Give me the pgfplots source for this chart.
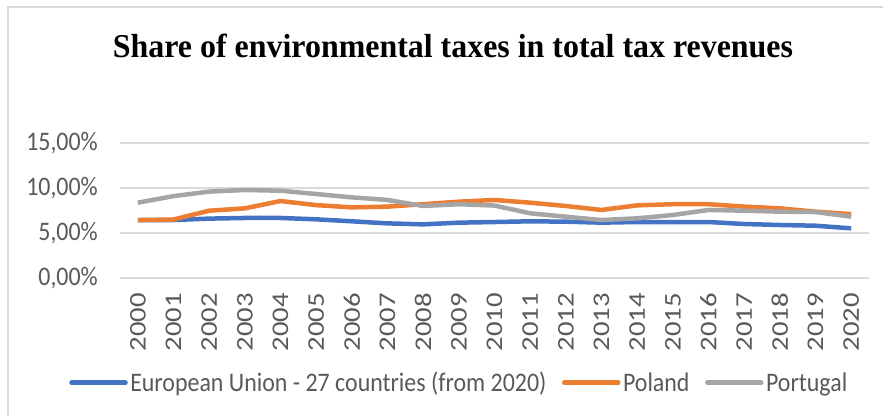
\documentclass[border=0pt]{standalone}
\usepackage{pgfplots}
\pgfplotsset{compat=1.18}
\usepackage{fontspec}
\setmainfont{Carlito}
\newfontfamily\titlefont{Liberation Serif}
\definecolor{euBlue}{HTML}{4472C4}
\definecolor{plOrange}{HTML}{ED7D31}
\definecolor{ptGray}{HTML}{A5A5A5}
\definecolor{gridgray}{HTML}{D9D9D9}
\definecolor{labelgray}{HTML}{595959}
\newcommand\vs[1]{\scalebox{1}[1.12]{#1}}
\newcommand\ls[1]{\scalebox{1.2}[1]{#1}}
\begin{document}
\begin{tikzpicture}[x=1bp,y=1bp]
\useasboundingbox (0bp,0bp) rectangle (883bp,-416bp);
\draw[color=gridgray, line width=1.5bp] (8bp,-416bp) -- (8bp,-7bp) -- (883bp,-7bp);
\node[anchor=base, inner sep=0pt] at (453bp,-57.3bp) {\resizebox{680bp}{23.5bp}{\titlefont\bfseries Share of environmental taxes in total tax revenues}};
\begin{axis}[
  at={(120bp,-278bp)}, anchor=south west,
  scale only axis, width=749bp, height=135bp,
  xmin=-0.5, xmax=20.5, ymin=0, ymax=15,
  axis line style={draw=none},
  tick style={draw=none},
  ymajorgrids, grid style={color=gridgray, line width=1.5bp},
  ytick={0,5,10,15},
  yticklabels={\vs{0{,}00\%},\vs{5{,}00\%},\vs{10{,}00\%},\vs{15{,}00\%}},
  xtick={0,...,20},
  xticklabels={\ls{2000},\ls{2001},\ls{2002},\ls{2003},\ls{2004},\ls{2005},\ls{2006},\ls{2007},\ls{2008},\ls{2009},\ls{2010},\ls{2011},\ls{2012},\ls{2013},\ls{2014},\ls{2015},\ls{2016},\ls{2017},\ls{2018},\ls{2019},\ls{2020}},
  tick label style={color=labelgray, font=\fontsize{24}{28}\selectfont, inner sep=0pt},
  xticklabel style={rotate=90, anchor=east},
  yticklabel style={anchor=east},
  xticklabel shift=15bp,
  yticklabel shift=22bp,
  legend style={at={(-0.068,-0.7756)}, anchor=west, draw=none, fill=none,
    font=\fontsize{24}{28}\selectfont, text=labelgray, inner sep=0pt,
    nodes={inner xsep=2.5bp, inner ysep=0pt},
    /tikz/every even column/.append style={column sep=13bp}},
  legend columns=-1,
  legend image code/.code={\draw[#1, line width=4.5bp, line cap=round] (0bp,0bp) -- (54bp,0bp);},
  every axis plot/.append style={line width=4.5bp, line join=round},
]
\addplot[color=euBlue] coordinates {(0,6.44)(1,6.44)(2,6.6)(3,6.67)(4,6.67)(5,6.52)(6,6.3)(7,6.07)(8,5.96)(9,6.15)(10,6.22)(11,6.3)(12,6.26)(13,6.15)(14,6.22)(15,6.22)(16,6.22)(17,6.0)(18,5.89)(19,5.81)(20,5.52)};
\addlegendentry{\vs{European Union - 27 countries (from 2020)}}
\addplot[color=plOrange] coordinates {(0,6.44)(1,6.5)(2,7.48)(3,7.74)(4,8.55)(5,8.1)(6,7.85)(7,7.93)(8,8.2)(9,8.48)(10,8.67)(11,8.37)(12,8.0)(13,7.56)(14,8.07)(15,8.2)(16,8.2)(17,7.93)(18,7.74)(19,7.37)(20,7.1)};
\addlegendentry{\vs{Poland}}
\addplot[color=ptGray] coordinates {(0,8.37)(1,9.1)(2,9.6)(3,9.78)(4,9.7)(5,9.33)(6,8.96)(7,8.67)(8,8.0)(9,8.2)(10,8.05)(11,7.19)(12,6.81)(13,6.44)(14,6.63)(15,7.0)(16,7.56)(17,7.48)(18,7.37)(19,7.33)(20,6.81)};
\addlegendentry{\vs{Portugal}}
\end{axis}
\end{tikzpicture}
\end{document}
